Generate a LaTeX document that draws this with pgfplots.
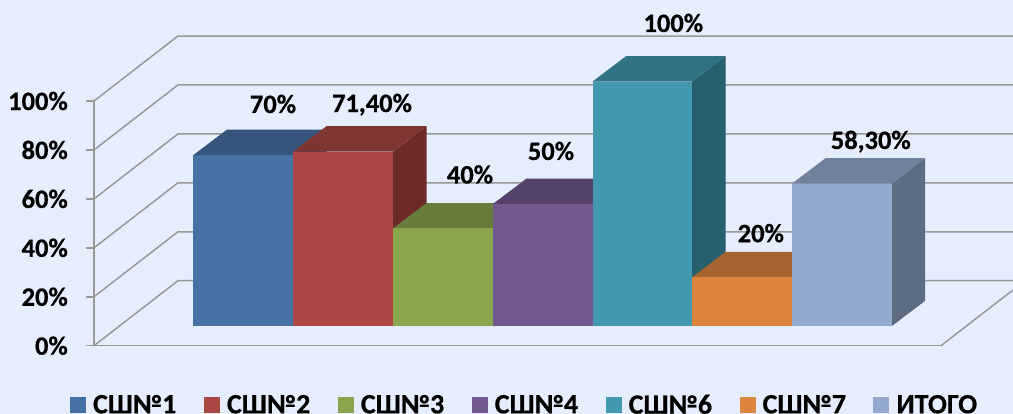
\documentclass[border=0pt]{standalone}
\usepackage{fontspec}
\setmainfont{Carlito}[BoldFeatures={FakeBold=0.6}]
\usepackage{pgfplots}
\pgfplotsset{compat=1.18}
\definecolor{cBack}{RGB}{230,237,253}
\definecolor{cGrid}{RGB}{152,152,152}
% front, top and side colour of each bar
\definecolor{cA}{RGB}{70,113,166}\definecolor{cAt}{RGB}{53,85,125}\definecolor{cAs}{RGB}{45,72,106}
\definecolor{cB}{RGB}{170,70,67}\definecolor{cBt}{RGB}{128,53,50}\definecolor{cBs}{RGB}{110,42,40}
\definecolor{cC}{RGB}{137,165,78}\definecolor{cCt}{RGB}{104,125,59}\definecolor{cCs}{RGB}{88,106,50}
\definecolor{cD}{RGB}{113,88,143}\definecolor{cDt}{RGB}{85,66,108}\definecolor{cDs}{RGB}{72,56,92}
\definecolor{cE}{RGB}{65,152,175}\definecolor{cEt}{RGB}{48,115,133}\definecolor{cEs}{RGB}{40,95,110}
\definecolor{cF}{RGB}{219,132,61}\definecolor{cFt}{RGB}{166,100,46}\definecolor{cFs}{RGB}{141,85,39}
\definecolor{cG}{RGB}{147,169,207}\definecolor{cGt}{RGB}{112,128,157}\definecolor{cGs}{RGB}{93,107,131}
\newcommand{\chartfont}{\fontsize{26.5}{30}\selectfont\bfseries}
\newcommand{\legfont}{\fontsize{28}{30}\selectfont\bfseries}

% left edge, right edge, value, colour prefix, legend text
\newcommand{\threedbar}[5]{%
  \pgfmathsetmacro{\tp}{7.93+#3}%
  \pgfmathsetmacro{\tpb}{7.93+#3+10.38}%
  \pgfmathsetmacro{\ltb}{#1+33.5}%
  \pgfmathsetmacro{\rtb}{#2+33.5}%
  \addplot[fill=#4s, draw=none, forget plot] coordinates {(#2,7.93) (\rtb,18.31) (\rtb,\tpb) (#2,\tp)} --cycle;
  \addplot[fill=#4t, draw=none, forget plot] coordinates {(#1,\tp) (\ltb,\tpb) (\rtb,\tpb) (#2,\tp)} --cycle;
  \addplot[fill=#4, draw=none] coordinates {(#1,7.93) (#2,7.93) (#2,\tp) (#1,\tp)} --cycle;
  \addlegendentry{#5}
}
\newcommand{\lbl}[3]{\node[anchor=base, inner sep=0pt, font=\chartfont] at (axis cs:#1,#2) {#3};}

\begin{document}
\begin{tikzpicture}
\path[use as bounding box, fill=cBack] (0,0) rectangle (1013pt,414pt);
\begin{axis}[
  at={(94pt,68.3pt)},
  scale only axis,
  width=847pt, height=244.7pt,
  xmin=94, xmax=941, ymin=0, ymax=100,
  clip=false,
  axis y line*=left, axis x line*=bottom,
  axis line style={cGrid, line width=1.6pt, -},
  xtick=\empty,
  ytick={0,20,40,60,80,100},
  yticklabels={0\%,20\%,40\%,60\%,80\%,100\%},
  tick style={cGrid, line width=1.6pt},
  major tick length=8pt,
  tick align=outside,
  yticklabel style={inner sep=0pt, xshift=-18pt, font=\chartfont},
  legend columns=7,
  legend image code/.code={\path[#1] (0pt,-8pt) rectangle (16pt,8pt);},
  legend style={
    at={(-0.0283,-0.242)}, anchor=west,
    draw=none, fill=none, inner sep=0pt, outer sep=0pt,
    font=\legfont,
    nodes={inner sep=0pt, outer sep=0pt},
    /tikz/every odd column/.style={column sep=7pt},
    /tikz/every even column/.style={column sep=27.5pt},
    legend cell align=left,
  },
]
% walls and floor
\addplot[cGrid, line width=1.5pt, forget plot] coordinates {(94,0) (178,26.56) (1013,26.56)};
\addplot[cGrid, line width=1.5pt, forget plot] coordinates {(94,20) (178,46.56) (1013,46.56)};
\addplot[cGrid, line width=1.5pt, forget plot] coordinates {(94,40) (178,66.56) (1013,66.56)};
\addplot[cGrid, line width=1.5pt, forget plot] coordinates {(94,60) (178,86.56) (1013,86.56)};
\addplot[cGrid, line width=1.5pt, forget plot] coordinates {(94,80) (178,106.56) (1013,106.56)};
\addplot[cGrid, line width=1.5pt, forget plot] coordinates {(94,100) (178,126.56) (1013,126.56)};
\addplot[cGrid, line width=1.5pt, forget plot] coordinates {(941,0) (1013,22.77)};
% bars, left to right
\threedbar{193.5}{293}{70}{cA}{СШ№1}
\threedbar{293}{393}{71.4}{cB}{СШ№2}
\threedbar{393}{493}{40}{cC}{СШ№3}
\threedbar{493}{592.5}{50}{cD}{СШ№4}
\threedbar{592.5}{692}{100}{cE}{СШ№6}
\threedbar{692}{792}{20}{cF}{СШ№7}
\threedbar{792}{891.5}{58.3}{cG}{ИТОГО}
% value labels
\lbl{273}{95.1}{70\%}
\lbl{372}{95.5}{71,40\%}
\lbl{470}{66.3}{40\%}
\lbl{551}{75.9}{50\%}
\lbl{673.3}{128.2}{100\%}
\lbl{760.8}{42.3}{20\%}
\lbl{870.8}{80.4}{58,30\%}
\end{axis}
\end{tikzpicture}
\end{document}
